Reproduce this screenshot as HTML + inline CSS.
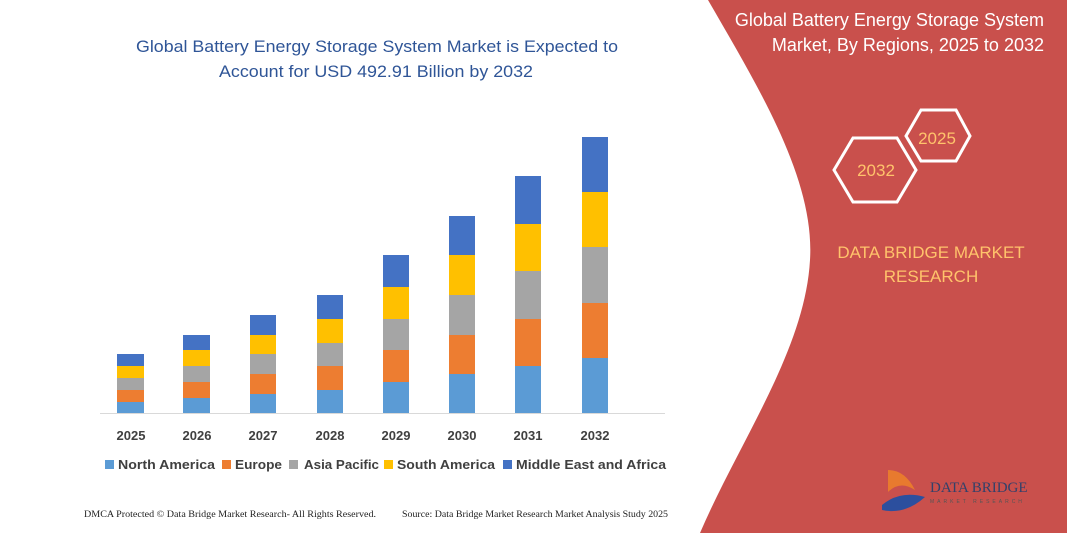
<!DOCTYPE html>
<html><head><meta charset="utf-8"><style>
body{margin:0;width:1067px;height:533px;overflow:hidden;background:#fff;font-family:"Liberation Sans",sans-serif}
</style></head><body>
<svg width="1067" height="533" xmlns="http://www.w3.org/2000/svg" style="position:absolute;left:0;top:0">
<path d="M708,0 C760,90 815,180 810,260 C805,350 740,440 700,533 L1067,533 L1067,0 Z" fill="#c9504c"/>
<g fill="#fff" font-family="Liberation Sans, sans-serif" font-size="18" text-anchor="end">
<text x="1044" y="26">Global Battery Energy Storage System</text>
<text x="1044" y="51">Market, By Regions, 2025 to 2032</text>
</g>
<g fill="none" stroke="#fff" stroke-width="3">
<polygon points="921,110 956,110 970,136 956,161 921,161 906,136"/>
<polygon points="853,138 897,138 916,170 897,202 853,202 834,170"/>
</g>
<g fill="#ffc36b" font-family="Liberation Sans, sans-serif" text-anchor="middle">
<text x="937" y="144" font-size="17">2025</text>
<text x="876" y="176" font-size="17">2032</text>
<text x="931" y="258" font-size="17">DATA BRIDGE MARKET</text>
<text x="931" y="282" font-size="17">RESEARCH</text>
</g>
<path d="M888,470 L888,492 Q900,480 915,490 Q905,470 888,470Z" fill="#e87a2e"/>
<path d="M882,505 Q900,490 925,497 Q905,515 882,510Z" fill="#2c4f9e"/>
<text x="930" y="492" font-family="Liberation Serif, serif" font-size="15" fill="#33416a">DATA BRIDGE</text>
<text x="930" y="503" font-family="Liberation Sans, sans-serif" font-size="5" fill="#555" letter-spacing="3">MARKET RESEARCH</text>

<g font-family="Liberation Sans, sans-serif" font-size="17" fill="#2f5597">
<text x="136" y="52" textLength="482" lengthAdjust="spacingAndGlyphs">Global Battery Energy Storage System Market is Expected to</text>
<text x="219" y="77" textLength="314" lengthAdjust="spacingAndGlyphs">Account for USD 492.91 Billion by 2032</text>
</g>
<line x1="100" y1="413.5" x2="665" y2="413.5" stroke="#d9d9d9" stroke-width="1"/>
<g font-family="Liberation Sans, sans-serif" font-size="13" font-weight="bold" fill="#404040" text-anchor="middle">
<text x="131" y="440">2025</text><text x="197" y="440">2026</text><text x="263" y="440">2027</text><text x="330" y="440">2028</text>
<text x="396" y="440">2029</text><text x="462" y="440">2030</text><text x="528" y="440">2031</text><text x="595" y="440">2032</text>
</g>
<g font-family="Liberation Sans, sans-serif" font-size="13" font-weight="bold" fill="#404040">
<rect x="105" y="460" width="9" height="9" fill="#5b9bd5"/><text x="118" y="469" textLength="97" lengthAdjust="spacingAndGlyphs">North America</text>
<rect x="222" y="460" width="9" height="9" fill="#ed7d31"/><text x="235" y="469" textLength="47" lengthAdjust="spacingAndGlyphs">Europe</text>
<rect x="289" y="460" width="9" height="9" fill="#a5a5a5"/><text x="304" y="469" textLength="75" lengthAdjust="spacingAndGlyphs">Asia Pacific</text>
<rect x="384" y="460" width="9" height="9" fill="#ffc000"/><text x="397" y="469" textLength="98" lengthAdjust="spacingAndGlyphs">South America</text>
<rect x="503" y="460" width="9" height="9" fill="#4472c4"/><text x="516" y="469" textLength="150" lengthAdjust="spacingAndGlyphs">Middle East and Africa</text>
</g>
<g font-family="Liberation Serif, serif" font-size="9" fill="#222">
<text x="84" y="517" textLength="292" lengthAdjust="spacingAndGlyphs">DMCA Protected © Data Bridge Market Research-  All Rights Reserved.</text>
<text x="402" y="517" textLength="266" lengthAdjust="spacingAndGlyphs">Source: Data Bridge Market Research  Market Analysis Study 2025</text>
</g>
<g>
<rect x="117" y="402" width="27" height="11" fill="#5b9bd5"/><rect x="117" y="390" width="27" height="12" fill="#ed7d31"/><rect x="117" y="378" width="27" height="12" fill="#a5a5a5"/><rect x="117" y="366" width="27" height="12" fill="#ffc000"/><rect x="117" y="354" width="27" height="12" fill="#4472c4"/>
<rect x="183" y="398" width="27" height="15" fill="#5b9bd5"/><rect x="183" y="382" width="27" height="16" fill="#ed7d31"/><rect x="183" y="366" width="27" height="16" fill="#a5a5a5"/><rect x="183" y="350" width="27" height="16" fill="#ffc000"/><rect x="183" y="335" width="27" height="15" fill="#4472c4"/>
<rect x="250" y="394" width="26" height="19" fill="#5b9bd5"/><rect x="250" y="374" width="26" height="20" fill="#ed7d31"/><rect x="250" y="354" width="26" height="20" fill="#a5a5a5"/><rect x="250" y="335" width="26" height="19" fill="#ffc000"/><rect x="250" y="315" width="26" height="20" fill="#4472c4"/>
<rect x="317" y="390" width="26" height="23" fill="#5b9bd5"/><rect x="317" y="366" width="26" height="24" fill="#ed7d31"/><rect x="317" y="343" width="26" height="23" fill="#a5a5a5"/><rect x="317" y="319" width="26" height="24" fill="#ffc000"/><rect x="317" y="295" width="26" height="24" fill="#4472c4"/>
<rect x="383" y="382" width="26" height="31" fill="#5b9bd5"/><rect x="383" y="350" width="26" height="32" fill="#ed7d31"/><rect x="383" y="319" width="26" height="31" fill="#a5a5a5"/><rect x="383" y="287" width="26" height="32" fill="#ffc000"/><rect x="383" y="255" width="26" height="32" fill="#4472c4"/>
<rect x="449" y="374" width="26" height="39" fill="#5b9bd5"/><rect x="449" y="335" width="26" height="39" fill="#ed7d31"/><rect x="449" y="295" width="26" height="40" fill="#a5a5a5"/><rect x="449" y="255" width="26" height="40" fill="#ffc000"/><rect x="449" y="216" width="26" height="39" fill="#4472c4"/>
<rect x="515" y="366" width="26" height="47" fill="#5b9bd5"/><rect x="515" y="319" width="26" height="47" fill="#ed7d31"/><rect x="515" y="271" width="26" height="48" fill="#a5a5a5"/><rect x="515" y="224" width="26" height="47" fill="#ffc000"/><rect x="515" y="176" width="26" height="48" fill="#4472c4"/>
<rect x="582" y="358" width="26" height="55" fill="#5b9bd5"/><rect x="582" y="303" width="26" height="55" fill="#ed7d31"/><rect x="582" y="247" width="26" height="56" fill="#a5a5a5"/><rect x="582" y="192" width="26" height="55" fill="#ffc000"/><rect x="582" y="137" width="26" height="55" fill="#4472c4"/>
</g>
</svg>
</body></html>
